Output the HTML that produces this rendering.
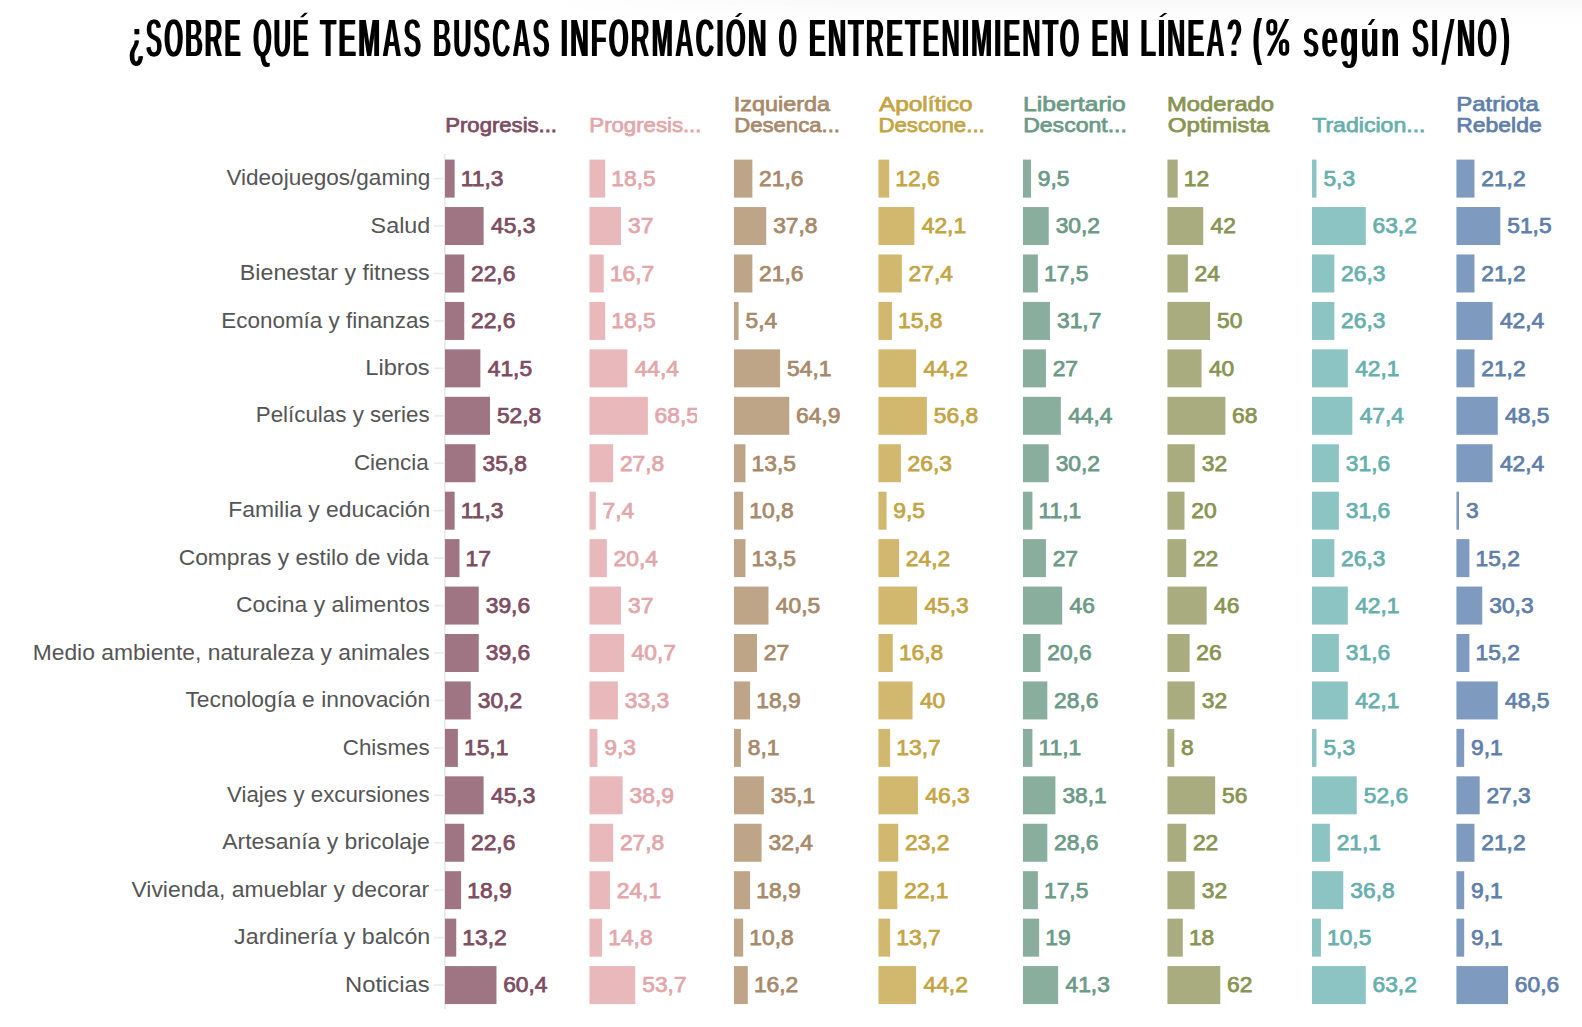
<!DOCTYPE html>
<html><head><meta charset="utf-8"><style>
html,body{margin:0;padding:0;background:#fff;}
body{width:1582px;height:1027px;overflow:hidden;position:relative;background:#fff;}
#shade{position:absolute;left:0;top:0;width:1582px;height:26px;
background:linear-gradient(to bottom,rgba(0,0,0,0.026) 0px,rgba(0,0,0,0.018) 6px,rgba(0,0,0,0.008) 13px,rgba(0,0,0,0.003) 19px,rgba(0,0,0,0) 26px);
-webkit-mask-image:linear-gradient(to right,transparent 540px,black 860px);mask-image:linear-gradient(to right,transparent 540px,black 860px);}
svg{position:absolute;left:0;top:0;display:block;}
text{font-family:"Liberation Sans",sans-serif;}
</style></head><body>
<div id="shade"></div>
<svg width="1582" height="1027" viewBox="0 0 1582 1027">
<defs><filter id="tm" x="-2%" y="-30%" width="104%" height="160%" color-interpolation-filters="sRGB"><feMorphology in="SourceGraphic" operator="erode" radius="0 1"/></filter></defs>
<g filter="url(#tm)">
<text transform="translate(128.24,57.30) scale(0.4317,1.0000)" x="0" y="0" font-size="56.1" font-weight="700" letter-spacing="5" fill="#000" stroke="#000" stroke-width="0" vector-effect="non-scaling-stroke">¿SOBRE</text>
<text transform="translate(129.64,57.30) scale(0.4317,1.0000)" x="0" y="0" font-size="56.1" font-weight="700" letter-spacing="5" fill="#000" stroke="#000" stroke-width="0" vector-effect="non-scaling-stroke">¿SOBRE</text>
<text transform="translate(252.56,57.30) scale(0.4208,1.0000)" x="0" y="0" font-size="56.1" font-weight="700" letter-spacing="5" fill="#000" stroke="#000" stroke-width="0" vector-effect="non-scaling-stroke">QUE</text>
<text transform="translate(253.96,57.30) scale(0.4208,1.0000)" x="0" y="0" font-size="56.1" font-weight="700" letter-spacing="5" fill="#000" stroke="#000" stroke-width="0" vector-effect="non-scaling-stroke">QUE</text>
<text transform="translate(319.39,57.30) scale(0.4673,1.0000)" x="0" y="0" font-size="56.1" font-weight="700" letter-spacing="5" fill="#000" stroke="#000" stroke-width="0" vector-effect="non-scaling-stroke">TEMAS</text>
<text transform="translate(320.79,57.30) scale(0.4673,1.0000)" x="0" y="0" font-size="56.1" font-weight="700" letter-spacing="5" fill="#000" stroke="#000" stroke-width="0" vector-effect="non-scaling-stroke">TEMAS</text>
<text transform="translate(432.46,57.30) scale(0.4441,1.0000)" x="0" y="0" font-size="56.1" font-weight="700" letter-spacing="5" fill="#000" stroke="#000" stroke-width="0" vector-effect="non-scaling-stroke">BUSCAS</text>
<text transform="translate(433.86,57.30) scale(0.4441,1.0000)" x="0" y="0" font-size="56.1" font-weight="700" letter-spacing="5" fill="#000" stroke="#000" stroke-width="0" vector-effect="non-scaling-stroke">BUSCAS</text>
<text transform="translate(560.12,57.30) scale(0.4549,1.0000)" x="0" y="0" font-size="56.1" font-weight="700" letter-spacing="5" fill="#000" stroke="#000" stroke-width="0" vector-effect="non-scaling-stroke">INFORMACION</text>
<text transform="translate(561.52,57.30) scale(0.4549,1.0000)" x="0" y="0" font-size="56.1" font-weight="700" letter-spacing="5" fill="#000" stroke="#000" stroke-width="0" vector-effect="non-scaling-stroke">INFORMACION</text>
<text transform="translate(778.07,57.30) scale(0.4123,1.0000)" x="0" y="0" font-size="56.1" font-weight="700" letter-spacing="5" fill="#000" stroke="#000" stroke-width="0" vector-effect="non-scaling-stroke">O</text>
<text transform="translate(779.47,57.30) scale(0.4123,1.0000)" x="0" y="0" font-size="56.1" font-weight="700" letter-spacing="5" fill="#000" stroke="#000" stroke-width="0" vector-effect="non-scaling-stroke">O</text>
<text transform="translate(808.35,57.30) scale(0.4467,1.0000)" x="0" y="0" font-size="56.1" font-weight="700" letter-spacing="5" fill="#000" stroke="#000" stroke-width="0" vector-effect="non-scaling-stroke">ENTRETENIMIENTO</text>
<text transform="translate(809.75,57.30) scale(0.4467,1.0000)" x="0" y="0" font-size="56.1" font-weight="700" letter-spacing="5" fill="#000" stroke="#000" stroke-width="0" vector-effect="non-scaling-stroke">ENTRETENIMIENTO</text>
<text transform="translate(1090.73,57.30) scale(0.4506,1.0000)" x="0" y="0" font-size="56.1" font-weight="700" letter-spacing="5" fill="#000" stroke="#000" stroke-width="0" vector-effect="non-scaling-stroke">EN</text>
<text transform="translate(1092.13,57.30) scale(0.4506,1.0000)" x="0" y="0" font-size="56.1" font-weight="700" letter-spacing="5" fill="#000" stroke="#000" stroke-width="0" vector-effect="non-scaling-stroke">EN</text>
<text transform="translate(1139.75,57.30) scale(0.4464,1.0000)" x="0" y="0" font-size="56.1" font-weight="700" letter-spacing="5" fill="#000" stroke="#000" stroke-width="0" vector-effect="non-scaling-stroke">LINEA?</text>
<text transform="translate(1141.15,57.30) scale(0.4464,1.0000)" x="0" y="0" font-size="56.1" font-weight="700" letter-spacing="5" fill="#000" stroke="#000" stroke-width="0" vector-effect="non-scaling-stroke">LINEA?</text>
<text transform="translate(1251.96,55.05) scale(0.5120,0.9123)" x="0" y="0" font-size="56.1" font-weight="700" letter-spacing="5" fill="#000" stroke="#000" stroke-width="0" vector-effect="non-scaling-stroke">(</text>
<text transform="translate(1253.36,55.05) scale(0.5120,0.9123)" x="0" y="0" font-size="56.1" font-weight="700" letter-spacing="5" fill="#000" stroke="#000" stroke-width="0" vector-effect="non-scaling-stroke">(</text>
<text transform="translate(1302.15,57.30) scale(0.5195,1.0000)" x="0" y="0" font-size="56.1" font-weight="700" letter-spacing="5" fill="#000" stroke="#000" stroke-width="0" vector-effect="non-scaling-stroke">segun</text>
<text transform="translate(1303.55,57.30) scale(0.5195,1.0000)" x="0" y="0" font-size="56.1" font-weight="700" letter-spacing="5" fill="#000" stroke="#000" stroke-width="0" vector-effect="non-scaling-stroke">segun</text>
<text transform="translate(1411.14,57.30) scale(0.4536,1.0000)" x="0" y="0" font-size="56.1" font-weight="700" letter-spacing="5" fill="#000" stroke="#000" stroke-width="0" vector-effect="non-scaling-stroke">SI</text>
<text transform="translate(1412.54,57.30) scale(0.4536,1.0000)" x="0" y="0" font-size="56.1" font-weight="700" letter-spacing="5" fill="#000" stroke="#000" stroke-width="0" vector-effect="non-scaling-stroke">SI</text>
<text transform="translate(1456.35,57.30) scale(0.4465,1.0000)" x="0" y="0" font-size="56.1" font-weight="700" letter-spacing="5" fill="#000" stroke="#000" stroke-width="0" vector-effect="non-scaling-stroke">NO</text>
<text transform="translate(1457.75,57.30) scale(0.4465,1.0000)" x="0" y="0" font-size="56.1" font-weight="700" letter-spacing="5" fill="#000" stroke="#000" stroke-width="0" vector-effect="non-scaling-stroke">NO</text>
<text transform="translate(1499.94,55.05) scale(0.4994,0.9123)" x="0" y="0" font-size="56.1" font-weight="700" letter-spacing="5" fill="#000" stroke="#000" stroke-width="0" vector-effect="non-scaling-stroke">)</text>
<text transform="translate(1501.34,55.05) scale(0.4994,0.9123)" x="0" y="0" font-size="56.1" font-weight="700" letter-spacing="5" fill="#000" stroke="#000" stroke-width="0" vector-effect="non-scaling-stroke">)</text>
</g>
<polygon points="1441.2,64.7 1445.4,64.7 1454.6,19 1450.4,19" fill="#000"/>
<polygon points="300,17.3 303.1,17.3 307.9,12.8 304.8,12.8" fill="#000"/>
<polygon points="734.9,17 738,17 742.3,13.1 739.2,13.1" fill="#000"/>
<polygon points="1159,17 1162.1,17 1167.3,13.1 1164.2,13.1" fill="#000"/>
<polygon points="1367.8,25.1 1371,25.1 1375.2,19 1372,19" fill="#000"/>
<rect x="1268.2" y="20.9" width="7.2" height="12.8" rx="3.6" fill="none" stroke="#000" stroke-width="3.8"/>
<rect x="1280.8" y="40.9" width="6.5" height="13" rx="3.25" fill="none" stroke="#000" stroke-width="3.8"/>
<polygon points="1266.8,55.8 1270.9,55.8 1289.2,19 1285.1,19" fill="#000"/>
<defs><clipPath id="c0"><rect x="443.00" y="140" width="109.4" height="880"/></clipPath><clipPath id="c1"><rect x="587.49" y="140" width="109.4" height="880"/></clipPath><clipPath id="c2"><rect x="731.98" y="140" width="109.4" height="880"/></clipPath><clipPath id="c3"><rect x="876.47" y="140" width="109.4" height="880"/></clipPath><clipPath id="c4"><rect x="1020.96" y="140" width="109.4" height="880"/></clipPath><clipPath id="c5"><rect x="1165.45" y="140" width="109.4" height="880"/></clipPath><clipPath id="c6"><rect x="1309.94" y="140" width="109.4" height="880"/></clipPath><clipPath id="c7"><rect x="1454.43" y="140" width="109.4" height="880"/></clipPath></defs>
<rect x="444" y="154" width="1.6" height="855" fill="#e8e8e8"/>
<text x="445.26" y="131.7" font-size="21.1" font-weight="400" stroke="#7e4c61" stroke-width="0.75" fill="#7e4c61" textLength="111.78" lengthAdjust="spacingAndGlyphs">Progresis...</text>
<text x="589.36" y="131.7" font-size="21.1" font-weight="400" stroke="#e3a6aa" stroke-width="0.75" fill="#e3a6aa" textLength="112.09" lengthAdjust="spacingAndGlyphs">Progresis...</text>
<text x="733.83" y="111" font-size="21.1" font-weight="400" stroke="#a8896a" stroke-width="0.75" fill="#a8896a" textLength="96.09" lengthAdjust="spacingAndGlyphs">Izquierda</text>
<text x="734.16" y="131.7" font-size="21.1" font-weight="400" stroke="#a8896a" stroke-width="0.75" fill="#a8896a" textLength="105.81" lengthAdjust="spacingAndGlyphs">Desenca...</text>
<text x="878.93" y="111" font-size="21.1" font-weight="400" stroke="#c4a443" stroke-width="0.75" fill="#c4a443" textLength="93.61" lengthAdjust="spacingAndGlyphs">Apolítico</text>
<text x="878.45" y="131.7" font-size="21.1" font-weight="400" stroke="#c4a443" stroke-width="0.75" fill="#c4a443" textLength="106.33" lengthAdjust="spacingAndGlyphs">Descone...</text>
<text x="1023.05" y="111" font-size="21.1" font-weight="400" stroke="#6b9a87" stroke-width="0.75" fill="#6b9a87" textLength="102.73" lengthAdjust="spacingAndGlyphs">Libertario</text>
<text x="1023.19" y="131.7" font-size="21.1" font-weight="400" stroke="#6b9a87" stroke-width="0.75" fill="#6b9a87" textLength="103.66" lengthAdjust="spacingAndGlyphs">Descont...</text>
<text x="1167.03" y="111" font-size="21.1" font-weight="400" stroke="#899352" stroke-width="0.75" fill="#899352" textLength="107.02" lengthAdjust="spacingAndGlyphs">Moderado</text>
<text x="1167.82" y="131.7" font-size="21.1" font-weight="400" stroke="#899352" stroke-width="0.75" fill="#899352" textLength="101.69" lengthAdjust="spacingAndGlyphs">Optimista</text>
<text x="1312.17" y="131.7" font-size="21.1" font-weight="400" stroke="#67afad" stroke-width="0.75" fill="#67afad" textLength="113.36" lengthAdjust="spacingAndGlyphs">Tradicion...</text>
<text x="1456.21" y="111" font-size="21.1" font-weight="400" stroke="#5f7fab" stroke-width="0.75" fill="#5f7fab" textLength="82.62" lengthAdjust="spacingAndGlyphs">Patriota</text>
<text x="1456.30" y="131.7" font-size="21.1" font-weight="400" stroke="#5f7fab" stroke-width="0.75" fill="#5f7fab" textLength="85.36" lengthAdjust="spacingAndGlyphs">Rebelde</text>
<text x="430.24" y="185.2" font-size="22.4" fill="#555" text-anchor="end" textLength="203.83" lengthAdjust="spacingAndGlyphs">Videojuegos/gaming</text>
<rect x="434" y="177.8" width="10" height="1.6" fill="#ececec"/>
<rect x="445.00" y="159.60" width="9.63" height="38.0" fill="#9f7483"/><text x="460.77" y="186.0" font-size="21.4" font-weight="400" stroke="#7e4c61" stroke-width="0.75" fill="#7e4c61" textLength="42.67" lengthAdjust="spacingAndGlyphs" clip-path="url(#c0)">11,3</text>
<rect x="589.49" y="159.60" width="15.76" height="38.0" fill="#e8b8bb"/><text x="611.39" y="186.0" font-size="21.4" font-weight="400" stroke="#e3a6aa" stroke-width="0.75" fill="#e3a6aa" textLength="44.36" lengthAdjust="spacingAndGlyphs" clip-path="url(#c1)">18,5</text>
<rect x="733.98" y="159.60" width="18.40" height="38.0" fill="#bea588"/><text x="759.12" y="186.0" font-size="21.4" font-weight="400" stroke="#a8896a" stroke-width="0.75" fill="#a8896a" textLength="44.36" lengthAdjust="spacingAndGlyphs" clip-path="url(#c2)">21,6</text>
<rect x="878.47" y="159.60" width="10.74" height="38.0" fill="#d2b86e"/><text x="895.35" y="186.0" font-size="21.4" font-weight="400" stroke="#c4a443" stroke-width="0.75" fill="#c4a443" textLength="44.36" lengthAdjust="spacingAndGlyphs" clip-path="url(#c3)">12,6</text>
<rect x="1022.96" y="159.60" width="8.09" height="38.0" fill="#8aae9e"/><text x="1037.88" y="186.0" font-size="21.4" font-weight="400" stroke="#6b9a87" stroke-width="0.75" fill="#6b9a87" textLength="31.68" lengthAdjust="spacingAndGlyphs" clip-path="url(#c4)">9,5</text>
<rect x="1167.45" y="159.60" width="10.22" height="38.0" fill="#a8ac7f"/><text x="1183.82" y="186.0" font-size="21.4" font-weight="400" stroke="#899352" stroke-width="0.75" fill="#899352" textLength="25.35" lengthAdjust="spacingAndGlyphs" clip-path="url(#c5)">12</text>
<rect x="1311.94" y="159.60" width="4.52" height="38.0" fill="#8cc4c3"/><text x="1323.42" y="186.0" font-size="21.4" font-weight="400" stroke="#67afad" stroke-width="0.75" fill="#67afad" textLength="31.68" lengthAdjust="spacingAndGlyphs" clip-path="url(#c6)">5,3</text>
<rect x="1456.43" y="159.60" width="18.06" height="38.0" fill="#7f9abf"/><text x="1481.23" y="186.0" font-size="21.4" font-weight="400" stroke="#5f7fab" stroke-width="0.75" fill="#5f7fab" textLength="44.36" lengthAdjust="spacingAndGlyphs" clip-path="url(#c7)">21,2</text>
<text x="430.28" y="232.6" font-size="22.4" fill="#555" text-anchor="end" textLength="59.66" lengthAdjust="spacingAndGlyphs">Salud</text>
<rect x="434" y="225.2" width="10" height="1.6" fill="#ececec"/>
<rect x="445.00" y="207.04" width="38.60" height="38.0" fill="#9f7483"/><text x="490.97" y="233.4" font-size="21.4" font-weight="400" stroke="#7e4c61" stroke-width="0.75" fill="#7e4c61" textLength="44.36" lengthAdjust="spacingAndGlyphs" clip-path="url(#c0)">45,3</text>
<rect x="589.49" y="207.04" width="31.52" height="38.0" fill="#e8b8bb"/><text x="628.02" y="233.4" font-size="21.4" font-weight="400" stroke="#e3a6aa" stroke-width="0.75" fill="#e3a6aa" textLength="25.35" lengthAdjust="spacingAndGlyphs" clip-path="url(#c1)">37</text>
<rect x="733.98" y="207.04" width="32.21" height="38.0" fill="#bea588"/><text x="773.19" y="233.4" font-size="21.4" font-weight="400" stroke="#a8896a" stroke-width="0.75" fill="#a8896a" textLength="44.36" lengthAdjust="spacingAndGlyphs" clip-path="url(#c2)">37,8</text>
<rect x="878.47" y="207.04" width="35.87" height="38.0" fill="#d2b86e"/><text x="921.71" y="233.4" font-size="21.4" font-weight="400" stroke="#c4a443" stroke-width="0.75" fill="#c4a443" textLength="44.36" lengthAdjust="spacingAndGlyphs" clip-path="url(#c3)">42,1</text>
<rect x="1022.96" y="207.04" width="25.73" height="38.0" fill="#8aae9e"/><text x="1055.70" y="233.4" font-size="21.4" font-weight="400" stroke="#6b9a87" stroke-width="0.75" fill="#6b9a87" textLength="44.36" lengthAdjust="spacingAndGlyphs" clip-path="url(#c4)">30,2</text>
<rect x="1167.45" y="207.04" width="35.78" height="38.0" fill="#a8ac7f"/><text x="1210.61" y="233.4" font-size="21.4" font-weight="400" stroke="#899352" stroke-width="0.75" fill="#899352" textLength="25.35" lengthAdjust="spacingAndGlyphs" clip-path="url(#c5)">42</text>
<rect x="1311.94" y="207.04" width="53.85" height="38.0" fill="#8cc4c3"/><text x="1372.52" y="233.4" font-size="21.4" font-weight="400" stroke="#67afad" stroke-width="0.75" fill="#67afad" textLength="44.36" lengthAdjust="spacingAndGlyphs" clip-path="url(#c6)">63,2</text>
<rect x="1456.43" y="207.04" width="43.88" height="38.0" fill="#7f9abf"/><text x="1507.27" y="233.4" font-size="21.4" font-weight="400" stroke="#5f7fab" stroke-width="0.75" fill="#5f7fab" textLength="44.36" lengthAdjust="spacingAndGlyphs" clip-path="url(#c7)">51,5</text>
<text x="429.65" y="280.1" font-size="22.4" fill="#555" text-anchor="end" textLength="189.85" lengthAdjust="spacingAndGlyphs">Bienestar y fitness</text>
<rect x="434" y="272.7" width="10" height="1.6" fill="#ececec"/>
<rect x="445.00" y="254.48" width="19.26" height="38.0" fill="#9f7483"/><text x="470.99" y="280.8" font-size="21.4" font-weight="400" stroke="#7e4c61" stroke-width="0.75" fill="#7e4c61" textLength="44.36" lengthAdjust="spacingAndGlyphs" clip-path="url(#c0)">22,6</text>
<rect x="589.49" y="254.48" width="14.23" height="38.0" fill="#e8b8bb"/><text x="609.86" y="280.8" font-size="21.4" font-weight="400" stroke="#e3a6aa" stroke-width="0.75" fill="#e3a6aa" textLength="44.36" lengthAdjust="spacingAndGlyphs" clip-path="url(#c1)">16,7</text>
<rect x="733.98" y="254.48" width="18.40" height="38.0" fill="#bea588"/><text x="759.12" y="280.8" font-size="21.4" font-weight="400" stroke="#a8896a" stroke-width="0.75" fill="#a8896a" textLength="44.36" lengthAdjust="spacingAndGlyphs" clip-path="url(#c2)">21,6</text>
<rect x="878.47" y="254.48" width="23.34" height="38.0" fill="#d2b86e"/><text x="908.55" y="280.8" font-size="21.4" font-weight="400" stroke="#c4a443" stroke-width="0.75" fill="#c4a443" textLength="44.36" lengthAdjust="spacingAndGlyphs" clip-path="url(#c3)">27,4</text>
<rect x="1022.96" y="254.48" width="14.91" height="38.0" fill="#8aae9e"/><text x="1044.01" y="280.8" font-size="21.4" font-weight="400" stroke="#6b9a87" stroke-width="0.75" fill="#6b9a87" textLength="44.36" lengthAdjust="spacingAndGlyphs" clip-path="url(#c4)">17,5</text>
<rect x="1167.45" y="254.48" width="20.45" height="38.0" fill="#a8ac7f"/><text x="1194.63" y="280.8" font-size="21.4" font-weight="400" stroke="#899352" stroke-width="0.75" fill="#899352" textLength="25.35" lengthAdjust="spacingAndGlyphs" clip-path="url(#c5)">24</text>
<rect x="1311.94" y="254.48" width="22.41" height="38.0" fill="#8cc4c3"/><text x="1341.08" y="280.8" font-size="21.4" font-weight="400" stroke="#67afad" stroke-width="0.75" fill="#67afad" textLength="44.36" lengthAdjust="spacingAndGlyphs" clip-path="url(#c6)">26,3</text>
<rect x="1456.43" y="254.48" width="18.06" height="38.0" fill="#7f9abf"/><text x="1481.23" y="280.8" font-size="21.4" font-weight="400" stroke="#5f7fab" stroke-width="0.75" fill="#5f7fab" textLength="44.36" lengthAdjust="spacingAndGlyphs" clip-path="url(#c7)">21,2</text>
<text x="429.63" y="327.5" font-size="22.4" fill="#555" text-anchor="end" textLength="208.37" lengthAdjust="spacingAndGlyphs">Economía y finanzas</text>
<rect x="434" y="320.1" width="10" height="1.6" fill="#ececec"/>
<rect x="445.00" y="301.92" width="19.26" height="38.0" fill="#9f7483"/><text x="470.99" y="328.3" font-size="21.4" font-weight="400" stroke="#7e4c61" stroke-width="0.75" fill="#7e4c61" textLength="44.36" lengthAdjust="spacingAndGlyphs" clip-path="url(#c0)">22,6</text>
<rect x="589.49" y="301.92" width="15.76" height="38.0" fill="#e8b8bb"/><text x="611.39" y="328.3" font-size="21.4" font-weight="400" stroke="#e3a6aa" stroke-width="0.75" fill="#e3a6aa" textLength="44.36" lengthAdjust="spacingAndGlyphs" clip-path="url(#c1)">18,5</text>
<rect x="733.98" y="301.92" width="4.60" height="38.0" fill="#bea588"/><text x="745.54" y="328.3" font-size="21.4" font-weight="400" stroke="#a8896a" stroke-width="0.75" fill="#a8896a" textLength="31.68" lengthAdjust="spacingAndGlyphs" clip-path="url(#c2)">5,4</text>
<rect x="878.47" y="301.92" width="13.46" height="38.0" fill="#d2b86e"/><text x="898.07" y="328.3" font-size="21.4" font-weight="400" stroke="#c4a443" stroke-width="0.75" fill="#c4a443" textLength="44.36" lengthAdjust="spacingAndGlyphs" clip-path="url(#c3)">15,8</text>
<rect x="1022.96" y="301.92" width="27.01" height="38.0" fill="#8aae9e"/><text x="1056.98" y="328.3" font-size="21.4" font-weight="400" stroke="#6b9a87" stroke-width="0.75" fill="#6b9a87" textLength="44.36" lengthAdjust="spacingAndGlyphs" clip-path="url(#c4)">31,7</text>
<rect x="1167.45" y="301.92" width="42.60" height="38.0" fill="#a8ac7f"/><text x="1217.01" y="328.3" font-size="21.4" font-weight="400" stroke="#899352" stroke-width="0.75" fill="#899352" textLength="25.35" lengthAdjust="spacingAndGlyphs" clip-path="url(#c5)">50</text>
<rect x="1311.94" y="301.92" width="22.41" height="38.0" fill="#8cc4c3"/><text x="1341.08" y="328.3" font-size="21.4" font-weight="400" stroke="#67afad" stroke-width="0.75" fill="#67afad" textLength="44.36" lengthAdjust="spacingAndGlyphs" clip-path="url(#c6)">26,3</text>
<rect x="1456.43" y="301.92" width="36.12" height="38.0" fill="#7f9abf"/><text x="1499.93" y="328.3" font-size="21.4" font-weight="400" stroke="#5f7fab" stroke-width="0.75" fill="#5f7fab" textLength="44.36" lengthAdjust="spacingAndGlyphs" clip-path="url(#c7)">42,4</text>
<text x="429.64" y="375.0" font-size="22.4" fill="#555" text-anchor="end" textLength="64.38" lengthAdjust="spacingAndGlyphs">Libros</text>
<rect x="434" y="367.6" width="10" height="1.6" fill="#ececec"/>
<rect x="445.00" y="349.36" width="35.36" height="38.0" fill="#9f7483"/><text x="487.73" y="375.7" font-size="21.4" font-weight="400" stroke="#7e4c61" stroke-width="0.75" fill="#7e4c61" textLength="44.36" lengthAdjust="spacingAndGlyphs" clip-path="url(#c0)">41,5</text>
<rect x="589.49" y="349.36" width="37.83" height="38.0" fill="#e8b8bb"/><text x="634.69" y="375.7" font-size="21.4" font-weight="400" stroke="#e3a6aa" stroke-width="0.75" fill="#e3a6aa" textLength="44.36" lengthAdjust="spacingAndGlyphs" clip-path="url(#c1)">44,4</text>
<rect x="733.98" y="349.36" width="46.09" height="38.0" fill="#bea588"/><text x="787.04" y="375.7" font-size="21.4" font-weight="400" stroke="#a8896a" stroke-width="0.75" fill="#a8896a" textLength="44.36" lengthAdjust="spacingAndGlyphs" clip-path="url(#c2)">54,1</text>
<rect x="878.47" y="349.36" width="37.66" height="38.0" fill="#d2b86e"/><text x="923.50" y="375.7" font-size="21.4" font-weight="400" stroke="#c4a443" stroke-width="0.75" fill="#c4a443" textLength="44.36" lengthAdjust="spacingAndGlyphs" clip-path="url(#c3)">44,2</text>
<rect x="1022.96" y="349.36" width="23.00" height="38.0" fill="#8aae9e"/><text x="1052.70" y="375.7" font-size="21.4" font-weight="400" stroke="#6b9a87" stroke-width="0.75" fill="#6b9a87" textLength="25.35" lengthAdjust="spacingAndGlyphs" clip-path="url(#c4)">27</text>
<rect x="1167.45" y="349.36" width="34.08" height="38.0" fill="#a8ac7f"/><text x="1208.90" y="375.7" font-size="21.4" font-weight="400" stroke="#899352" stroke-width="0.75" fill="#899352" textLength="25.35" lengthAdjust="spacingAndGlyphs" clip-path="url(#c5)">40</text>
<rect x="1311.94" y="349.36" width="35.87" height="38.0" fill="#8cc4c3"/><text x="1355.18" y="375.7" font-size="21.4" font-weight="400" stroke="#67afad" stroke-width="0.75" fill="#67afad" textLength="44.36" lengthAdjust="spacingAndGlyphs" clip-path="url(#c6)">42,1</text>
<rect x="1456.43" y="349.36" width="18.06" height="38.0" fill="#7f9abf"/><text x="1481.23" y="375.7" font-size="21.4" font-weight="400" stroke="#5f7fab" stroke-width="0.75" fill="#5f7fab" textLength="44.36" lengthAdjust="spacingAndGlyphs" clip-path="url(#c7)">21,2</text>
<text x="429.62" y="422.4" font-size="22.4" fill="#555" text-anchor="end" textLength="173.85" lengthAdjust="spacingAndGlyphs">Películas y series</text>
<rect x="434" y="415.0" width="10" height="1.6" fill="#ececec"/>
<rect x="445.00" y="396.80" width="44.99" height="38.0" fill="#9f7483"/><text x="496.95" y="423.2" font-size="21.4" font-weight="400" stroke="#7e4c61" stroke-width="0.75" fill="#7e4c61" textLength="44.36" lengthAdjust="spacingAndGlyphs" clip-path="url(#c0)">52,8</text>
<rect x="589.49" y="396.80" width="58.36" height="38.0" fill="#e8b8bb"/><text x="654.59" y="423.2" font-size="21.4" font-weight="400" stroke="#e3a6aa" stroke-width="0.75" fill="#e3a6aa" textLength="44.36" lengthAdjust="spacingAndGlyphs" clip-path="url(#c1)">68,5</text>
<rect x="733.98" y="396.80" width="55.29" height="38.0" fill="#bea588"/><text x="796.01" y="423.2" font-size="21.4" font-weight="400" stroke="#a8896a" stroke-width="0.75" fill="#a8896a" textLength="44.36" lengthAdjust="spacingAndGlyphs" clip-path="url(#c2)">64,9</text>
<rect x="878.47" y="396.80" width="48.39" height="38.0" fill="#d2b86e"/><text x="933.83" y="423.2" font-size="21.4" font-weight="400" stroke="#c4a443" stroke-width="0.75" fill="#c4a443" textLength="44.36" lengthAdjust="spacingAndGlyphs" clip-path="url(#c3)">56,8</text>
<rect x="1022.96" y="396.80" width="37.83" height="38.0" fill="#8aae9e"/><text x="1068.16" y="423.2" font-size="21.4" font-weight="400" stroke="#6b9a87" stroke-width="0.75" fill="#6b9a87" textLength="44.36" lengthAdjust="spacingAndGlyphs" clip-path="url(#c4)">44,4</text>
<rect x="1167.45" y="396.80" width="57.94" height="38.0" fill="#a8ac7f"/><text x="1232.12" y="423.2" font-size="21.4" font-weight="400" stroke="#899352" stroke-width="0.75" fill="#899352" textLength="25.35" lengthAdjust="spacingAndGlyphs" clip-path="url(#c5)">68</text>
<rect x="1311.94" y="396.80" width="40.38" height="38.0" fill="#8cc4c3"/><text x="1359.70" y="423.2" font-size="21.4" font-weight="400" stroke="#67afad" stroke-width="0.75" fill="#67afad" textLength="44.36" lengthAdjust="spacingAndGlyphs" clip-path="url(#c6)">47,4</text>
<rect x="1456.43" y="396.80" width="41.32" height="38.0" fill="#7f9abf"/><text x="1505.13" y="423.2" font-size="21.4" font-weight="400" stroke="#5f7fab" stroke-width="0.75" fill="#5f7fab" textLength="44.36" lengthAdjust="spacingAndGlyphs" clip-path="url(#c7)">48,5</text>
<text x="428.82" y="469.8" font-size="22.4" fill="#555" text-anchor="end" textLength="74.94" lengthAdjust="spacingAndGlyphs">Ciencia</text>
<rect x="434" y="462.4" width="10" height="1.6" fill="#ececec"/>
<rect x="445.00" y="444.24" width="30.50" height="38.0" fill="#9f7483"/><text x="482.51" y="470.6" font-size="21.4" font-weight="400" stroke="#7e4c61" stroke-width="0.75" fill="#7e4c61" textLength="44.36" lengthAdjust="spacingAndGlyphs" clip-path="url(#c0)">35,8</text>
<rect x="589.49" y="444.24" width="23.69" height="38.0" fill="#e8b8bb"/><text x="619.91" y="470.6" font-size="21.4" font-weight="400" stroke="#e3a6aa" stroke-width="0.75" fill="#e3a6aa" textLength="44.36" lengthAdjust="spacingAndGlyphs" clip-path="url(#c1)">27,8</text>
<rect x="733.98" y="444.24" width="11.50" height="38.0" fill="#bea588"/><text x="751.62" y="470.6" font-size="21.4" font-weight="400" stroke="#a8896a" stroke-width="0.75" fill="#a8896a" textLength="44.36" lengthAdjust="spacingAndGlyphs" clip-path="url(#c2)">13,5</text>
<rect x="878.47" y="444.24" width="22.41" height="38.0" fill="#d2b86e"/><text x="907.61" y="470.6" font-size="21.4" font-weight="400" stroke="#c4a443" stroke-width="0.75" fill="#c4a443" textLength="44.36" lengthAdjust="spacingAndGlyphs" clip-path="url(#c3)">26,3</text>
<rect x="1022.96" y="444.24" width="25.73" height="38.0" fill="#8aae9e"/><text x="1055.70" y="470.6" font-size="21.4" font-weight="400" stroke="#6b9a87" stroke-width="0.75" fill="#6b9a87" textLength="44.36" lengthAdjust="spacingAndGlyphs" clip-path="url(#c4)">30,2</text>
<rect x="1167.45" y="444.24" width="27.26" height="38.0" fill="#a8ac7f"/><text x="1201.72" y="470.6" font-size="21.4" font-weight="400" stroke="#899352" stroke-width="0.75" fill="#899352" textLength="25.35" lengthAdjust="spacingAndGlyphs" clip-path="url(#c5)">32</text>
<rect x="1311.94" y="444.24" width="26.92" height="38.0" fill="#8cc4c3"/><text x="1345.87" y="470.6" font-size="21.4" font-weight="400" stroke="#67afad" stroke-width="0.75" fill="#67afad" textLength="44.36" lengthAdjust="spacingAndGlyphs" clip-path="url(#c6)">31,6</text>
<rect x="1456.43" y="444.24" width="36.12" height="38.0" fill="#7f9abf"/><text x="1499.93" y="470.6" font-size="21.4" font-weight="400" stroke="#5f7fab" stroke-width="0.75" fill="#5f7fab" textLength="44.36" lengthAdjust="spacingAndGlyphs" clip-path="url(#c7)">42,4</text>
<text x="430.25" y="517.3" font-size="22.4" fill="#555" text-anchor="end" textLength="201.92" lengthAdjust="spacingAndGlyphs">Familia y educación</text>
<rect x="434" y="509.9" width="10" height="1.6" fill="#ececec"/>
<rect x="445.00" y="491.68" width="9.63" height="38.0" fill="#9f7483"/><text x="460.77" y="518.0" font-size="21.4" font-weight="400" stroke="#7e4c61" stroke-width="0.75" fill="#7e4c61" textLength="42.67" lengthAdjust="spacingAndGlyphs" clip-path="url(#c0)">11,3</text>
<rect x="589.49" y="491.68" width="6.30" height="38.0" fill="#e8b8bb"/><text x="602.48" y="518.0" font-size="21.4" font-weight="400" stroke="#e3a6aa" stroke-width="0.75" fill="#e3a6aa" textLength="31.68" lengthAdjust="spacingAndGlyphs" clip-path="url(#c1)">7,4</text>
<rect x="733.98" y="491.68" width="9.20" height="38.0" fill="#bea588"/><text x="749.32" y="518.0" font-size="21.4" font-weight="400" stroke="#a8896a" stroke-width="0.75" fill="#a8896a" textLength="44.36" lengthAdjust="spacingAndGlyphs" clip-path="url(#c2)">10,8</text>
<rect x="878.47" y="491.68" width="8.09" height="38.0" fill="#d2b86e"/><text x="893.39" y="518.0" font-size="21.4" font-weight="400" stroke="#c4a443" stroke-width="0.75" fill="#c4a443" textLength="31.68" lengthAdjust="spacingAndGlyphs" clip-path="url(#c3)">9,5</text>
<rect x="1022.96" y="491.68" width="9.46" height="38.0" fill="#8aae9e"/><text x="1038.56" y="518.0" font-size="21.4" font-weight="400" stroke="#6b9a87" stroke-width="0.75" fill="#6b9a87" textLength="42.67" lengthAdjust="spacingAndGlyphs" clip-path="url(#c4)">11,1</text>
<rect x="1167.45" y="491.68" width="17.04" height="38.0" fill="#a8ac7f"/><text x="1191.23" y="518.0" font-size="21.4" font-weight="400" stroke="#899352" stroke-width="0.75" fill="#899352" textLength="25.35" lengthAdjust="spacingAndGlyphs" clip-path="url(#c5)">20</text>
<rect x="1311.94" y="491.68" width="26.92" height="38.0" fill="#8cc4c3"/><text x="1345.87" y="518.0" font-size="21.4" font-weight="400" stroke="#67afad" stroke-width="0.75" fill="#67afad" textLength="44.36" lengthAdjust="spacingAndGlyphs" clip-path="url(#c6)">31,6</text>
<rect x="1456.43" y="491.68" width="2.56" height="38.0" fill="#7f9abf"/><text x="1465.99" y="518.0" font-size="21.4" font-weight="400" stroke="#5f7fab" stroke-width="0.75" fill="#5f7fab" textLength="12.68" lengthAdjust="spacingAndGlyphs" clip-path="url(#c7)">3</text>
<text x="428.78" y="564.7" font-size="22.4" fill="#555" text-anchor="end" textLength="250.13" lengthAdjust="spacingAndGlyphs">Compras y estilo de vida</text>
<rect x="434" y="557.3" width="10" height="1.6" fill="#ececec"/>
<rect x="445.00" y="539.12" width="14.48" height="38.0" fill="#9f7483"/><text x="465.63" y="565.5" font-size="21.4" font-weight="400" stroke="#7e4c61" stroke-width="0.75" fill="#7e4c61" textLength="25.35" lengthAdjust="spacingAndGlyphs" clip-path="url(#c0)">17</text>
<rect x="589.49" y="539.12" width="17.38" height="38.0" fill="#e8b8bb"/><text x="613.61" y="565.5" font-size="21.4" font-weight="400" stroke="#e3a6aa" stroke-width="0.75" fill="#e3a6aa" textLength="44.36" lengthAdjust="spacingAndGlyphs" clip-path="url(#c1)">20,4</text>
<rect x="733.98" y="539.12" width="11.50" height="38.0" fill="#bea588"/><text x="751.62" y="565.5" font-size="21.4" font-weight="400" stroke="#a8896a" stroke-width="0.75" fill="#a8896a" textLength="44.36" lengthAdjust="spacingAndGlyphs" clip-path="url(#c2)">13,5</text>
<rect x="878.47" y="539.12" width="20.62" height="38.0" fill="#d2b86e"/><text x="905.82" y="565.5" font-size="21.4" font-weight="400" stroke="#c4a443" stroke-width="0.75" fill="#c4a443" textLength="44.36" lengthAdjust="spacingAndGlyphs" clip-path="url(#c3)">24,2</text>
<rect x="1022.96" y="539.12" width="23.00" height="38.0" fill="#8aae9e"/><text x="1052.70" y="565.5" font-size="21.4" font-weight="400" stroke="#6b9a87" stroke-width="0.75" fill="#6b9a87" textLength="25.35" lengthAdjust="spacingAndGlyphs" clip-path="url(#c4)">27</text>
<rect x="1167.45" y="539.12" width="18.74" height="38.0" fill="#a8ac7f"/><text x="1192.93" y="565.5" font-size="21.4" font-weight="400" stroke="#899352" stroke-width="0.75" fill="#899352" textLength="25.35" lengthAdjust="spacingAndGlyphs" clip-path="url(#c5)">22</text>
<rect x="1311.94" y="539.12" width="22.41" height="38.0" fill="#8cc4c3"/><text x="1341.08" y="565.5" font-size="21.4" font-weight="400" stroke="#67afad" stroke-width="0.75" fill="#67afad" textLength="44.36" lengthAdjust="spacingAndGlyphs" clip-path="url(#c6)">26,3</text>
<rect x="1456.43" y="539.12" width="12.95" height="38.0" fill="#7f9abf"/><text x="1475.52" y="565.5" font-size="21.4" font-weight="400" stroke="#5f7fab" stroke-width="0.75" fill="#5f7fab" textLength="44.36" lengthAdjust="spacingAndGlyphs" clip-path="url(#c7)">15,2</text>
<text x="429.63" y="612.2" font-size="22.4" fill="#555" text-anchor="end" textLength="193.68" lengthAdjust="spacingAndGlyphs">Cocina y alimentos</text>
<rect x="434" y="604.8" width="10" height="1.6" fill="#ececec"/>
<rect x="445.00" y="586.56" width="33.74" height="38.0" fill="#9f7483"/><text x="485.75" y="612.9" font-size="21.4" font-weight="400" stroke="#7e4c61" stroke-width="0.75" fill="#7e4c61" textLength="44.36" lengthAdjust="spacingAndGlyphs" clip-path="url(#c0)">39,6</text>
<rect x="589.49" y="586.56" width="31.52" height="38.0" fill="#e8b8bb"/><text x="628.02" y="612.9" font-size="21.4" font-weight="400" stroke="#e3a6aa" stroke-width="0.75" fill="#e3a6aa" textLength="25.35" lengthAdjust="spacingAndGlyphs" clip-path="url(#c1)">37</text>
<rect x="733.98" y="586.56" width="34.51" height="38.0" fill="#bea588"/><text x="775.86" y="612.9" font-size="21.4" font-weight="400" stroke="#a8896a" stroke-width="0.75" fill="#a8896a" textLength="44.36" lengthAdjust="spacingAndGlyphs" clip-path="url(#c2)">40,5</text>
<rect x="878.47" y="586.56" width="38.60" height="38.0" fill="#d2b86e"/><text x="924.44" y="612.9" font-size="21.4" font-weight="400" stroke="#c4a443" stroke-width="0.75" fill="#c4a443" textLength="44.36" lengthAdjust="spacingAndGlyphs" clip-path="url(#c3)">45,3</text>
<rect x="1022.96" y="586.56" width="39.19" height="38.0" fill="#8aae9e"/><text x="1069.53" y="612.9" font-size="21.4" font-weight="400" stroke="#6b9a87" stroke-width="0.75" fill="#6b9a87" textLength="25.35" lengthAdjust="spacingAndGlyphs" clip-path="url(#c4)">46</text>
<rect x="1167.45" y="586.56" width="39.19" height="38.0" fill="#a8ac7f"/><text x="1214.02" y="612.9" font-size="21.4" font-weight="400" stroke="#899352" stroke-width="0.75" fill="#899352" textLength="25.35" lengthAdjust="spacingAndGlyphs" clip-path="url(#c5)">46</text>
<rect x="1311.94" y="586.56" width="35.87" height="38.0" fill="#8cc4c3"/><text x="1355.18" y="612.9" font-size="21.4" font-weight="400" stroke="#67afad" stroke-width="0.75" fill="#67afad" textLength="44.36" lengthAdjust="spacingAndGlyphs" clip-path="url(#c6)">42,1</text>
<rect x="1456.43" y="586.56" width="25.82" height="38.0" fill="#7f9abf"/><text x="1489.25" y="612.9" font-size="21.4" font-weight="400" stroke="#5f7fab" stroke-width="0.75" fill="#5f7fab" textLength="44.36" lengthAdjust="spacingAndGlyphs" clip-path="url(#c7)">30,3</text>
<text x="429.63" y="659.6" font-size="22.4" fill="#555" text-anchor="end" textLength="396.90" lengthAdjust="spacingAndGlyphs">Medio ambiente, naturaleza y animales</text>
<rect x="434" y="652.2" width="10" height="1.6" fill="#ececec"/>
<rect x="445.00" y="634.00" width="33.74" height="38.0" fill="#9f7483"/><text x="485.75" y="660.4" font-size="21.4" font-weight="400" stroke="#7e4c61" stroke-width="0.75" fill="#7e4c61" textLength="44.36" lengthAdjust="spacingAndGlyphs" clip-path="url(#c0)">39,6</text>
<rect x="589.49" y="634.00" width="34.68" height="38.0" fill="#e8b8bb"/><text x="631.54" y="660.4" font-size="21.4" font-weight="400" stroke="#e3a6aa" stroke-width="0.75" fill="#e3a6aa" textLength="44.36" lengthAdjust="spacingAndGlyphs" clip-path="url(#c1)">40,7</text>
<rect x="733.98" y="634.00" width="23.00" height="38.0" fill="#bea588"/><text x="763.72" y="660.4" font-size="21.4" font-weight="400" stroke="#a8896a" stroke-width="0.75" fill="#a8896a" textLength="25.35" lengthAdjust="spacingAndGlyphs" clip-path="url(#c2)">27</text>
<rect x="878.47" y="634.00" width="14.31" height="38.0" fill="#d2b86e"/><text x="898.93" y="660.4" font-size="21.4" font-weight="400" stroke="#c4a443" stroke-width="0.75" fill="#c4a443" textLength="44.36" lengthAdjust="spacingAndGlyphs" clip-path="url(#c3)">16,8</text>
<rect x="1022.96" y="634.00" width="17.55" height="38.0" fill="#8aae9e"/><text x="1047.25" y="660.4" font-size="21.4" font-weight="400" stroke="#6b9a87" stroke-width="0.75" fill="#6b9a87" textLength="44.36" lengthAdjust="spacingAndGlyphs" clip-path="url(#c4)">20,6</text>
<rect x="1167.45" y="634.00" width="22.15" height="38.0" fill="#a8ac7f"/><text x="1196.34" y="660.4" font-size="21.4" font-weight="400" stroke="#899352" stroke-width="0.75" fill="#899352" textLength="25.35" lengthAdjust="spacingAndGlyphs" clip-path="url(#c5)">26</text>
<rect x="1311.94" y="634.00" width="26.92" height="38.0" fill="#8cc4c3"/><text x="1345.87" y="660.4" font-size="21.4" font-weight="400" stroke="#67afad" stroke-width="0.75" fill="#67afad" textLength="44.36" lengthAdjust="spacingAndGlyphs" clip-path="url(#c6)">31,6</text>
<rect x="1456.43" y="634.00" width="12.95" height="38.0" fill="#7f9abf"/><text x="1475.52" y="660.4" font-size="21.4" font-weight="400" stroke="#5f7fab" stroke-width="0.75" fill="#5f7fab" textLength="44.36" lengthAdjust="spacingAndGlyphs" clip-path="url(#c7)">15,2</text>
<text x="430.26" y="707.0" font-size="22.4" fill="#555" text-anchor="end" textLength="244.86" lengthAdjust="spacingAndGlyphs">Tecnología e innovación</text>
<rect x="434" y="699.6" width="10" height="1.6" fill="#ececec"/>
<rect x="445.00" y="681.44" width="25.73" height="38.0" fill="#9f7483"/><text x="477.74" y="707.8" font-size="21.4" font-weight="400" stroke="#7e4c61" stroke-width="0.75" fill="#7e4c61" textLength="44.36" lengthAdjust="spacingAndGlyphs" clip-path="url(#c0)">30,2</text>
<rect x="589.49" y="681.44" width="28.37" height="38.0" fill="#e8b8bb"/><text x="624.87" y="707.8" font-size="21.4" font-weight="400" stroke="#e3a6aa" stroke-width="0.75" fill="#e3a6aa" textLength="44.36" lengthAdjust="spacingAndGlyphs" clip-path="url(#c1)">33,3</text>
<rect x="733.98" y="681.44" width="16.10" height="38.0" fill="#bea588"/><text x="756.23" y="707.8" font-size="21.4" font-weight="400" stroke="#a8896a" stroke-width="0.75" fill="#a8896a" textLength="44.36" lengthAdjust="spacingAndGlyphs" clip-path="url(#c2)">18,9</text>
<rect x="878.47" y="681.44" width="34.08" height="38.0" fill="#d2b86e"/><text x="919.92" y="707.8" font-size="21.4" font-weight="400" stroke="#c4a443" stroke-width="0.75" fill="#c4a443" textLength="25.35" lengthAdjust="spacingAndGlyphs" clip-path="url(#c3)">40</text>
<rect x="1022.96" y="681.44" width="24.37" height="38.0" fill="#8aae9e"/><text x="1054.06" y="707.8" font-size="21.4" font-weight="400" stroke="#6b9a87" stroke-width="0.75" fill="#6b9a87" textLength="44.36" lengthAdjust="spacingAndGlyphs" clip-path="url(#c4)">28,6</text>
<rect x="1167.45" y="681.44" width="27.26" height="38.0" fill="#a8ac7f"/><text x="1201.72" y="707.8" font-size="21.4" font-weight="400" stroke="#899352" stroke-width="0.75" fill="#899352" textLength="25.35" lengthAdjust="spacingAndGlyphs" clip-path="url(#c5)">32</text>
<rect x="1311.94" y="681.44" width="35.87" height="38.0" fill="#8cc4c3"/><text x="1355.18" y="707.8" font-size="21.4" font-weight="400" stroke="#67afad" stroke-width="0.75" fill="#67afad" textLength="44.36" lengthAdjust="spacingAndGlyphs" clip-path="url(#c6)">42,1</text>
<rect x="1456.43" y="681.44" width="41.32" height="38.0" fill="#7f9abf"/><text x="1505.13" y="707.8" font-size="21.4" font-weight="400" stroke="#5f7fab" stroke-width="0.75" fill="#5f7fab" textLength="44.36" lengthAdjust="spacingAndGlyphs" clip-path="url(#c7)">48,5</text>
<text x="429.60" y="754.5" font-size="22.4" fill="#555" text-anchor="end" textLength="86.81" lengthAdjust="spacingAndGlyphs">Chismes</text>
<rect x="434" y="747.1" width="10" height="1.6" fill="#ececec"/>
<rect x="445.00" y="728.88" width="12.87" height="38.0" fill="#9f7483"/><text x="464.01" y="755.2" font-size="21.4" font-weight="400" stroke="#7e4c61" stroke-width="0.75" fill="#7e4c61" textLength="44.36" lengthAdjust="spacingAndGlyphs" clip-path="url(#c0)">15,1</text>
<rect x="589.49" y="728.88" width="7.92" height="38.0" fill="#e8b8bb"/><text x="604.24" y="755.2" font-size="21.4" font-weight="400" stroke="#e3a6aa" stroke-width="0.75" fill="#e3a6aa" textLength="31.68" lengthAdjust="spacingAndGlyphs" clip-path="url(#c1)">9,3</text>
<rect x="733.98" y="728.88" width="6.90" height="38.0" fill="#bea588"/><text x="747.75" y="755.2" font-size="21.4" font-weight="400" stroke="#a8896a" stroke-width="0.75" fill="#a8896a" textLength="31.68" lengthAdjust="spacingAndGlyphs" clip-path="url(#c2)">8,1</text>
<rect x="878.47" y="728.88" width="11.67" height="38.0" fill="#d2b86e"/><text x="896.29" y="755.2" font-size="21.4" font-weight="400" stroke="#c4a443" stroke-width="0.75" fill="#c4a443" textLength="44.36" lengthAdjust="spacingAndGlyphs" clip-path="url(#c3)">13,7</text>
<rect x="1022.96" y="728.88" width="9.46" height="38.0" fill="#8aae9e"/><text x="1038.56" y="755.2" font-size="21.4" font-weight="400" stroke="#6b9a87" stroke-width="0.75" fill="#6b9a87" textLength="42.67" lengthAdjust="spacingAndGlyphs" clip-path="url(#c4)">11,1</text>
<rect x="1167.45" y="728.88" width="6.82" height="38.0" fill="#a8ac7f"/><text x="1181.14" y="755.2" font-size="21.4" font-weight="400" stroke="#899352" stroke-width="0.75" fill="#899352" textLength="12.68" lengthAdjust="spacingAndGlyphs" clip-path="url(#c5)">8</text>
<rect x="1311.94" y="728.88" width="4.52" height="38.0" fill="#8cc4c3"/><text x="1323.42" y="755.2" font-size="21.4" font-weight="400" stroke="#67afad" stroke-width="0.75" fill="#67afad" textLength="31.68" lengthAdjust="spacingAndGlyphs" clip-path="url(#c6)">5,3</text>
<rect x="1456.43" y="728.88" width="7.75" height="38.0" fill="#7f9abf"/><text x="1471.01" y="755.2" font-size="21.4" font-weight="400" stroke="#5f7fab" stroke-width="0.75" fill="#5f7fab" textLength="31.68" lengthAdjust="spacingAndGlyphs" clip-path="url(#c7)">9,1</text>
<text x="429.58" y="801.9" font-size="22.4" fill="#555" text-anchor="end" textLength="202.57" lengthAdjust="spacingAndGlyphs">Viajes y excursiones</text>
<rect x="434" y="794.5" width="10" height="1.6" fill="#ececec"/>
<rect x="445.00" y="776.32" width="38.60" height="38.0" fill="#9f7483"/><text x="490.97" y="802.7" font-size="21.4" font-weight="400" stroke="#7e4c61" stroke-width="0.75" fill="#7e4c61" textLength="44.36" lengthAdjust="spacingAndGlyphs" clip-path="url(#c0)">45,3</text>
<rect x="589.49" y="776.32" width="33.14" height="38.0" fill="#e8b8bb"/><text x="629.64" y="802.7" font-size="21.4" font-weight="400" stroke="#e3a6aa" stroke-width="0.75" fill="#e3a6aa" textLength="44.36" lengthAdjust="spacingAndGlyphs" clip-path="url(#c1)">38,9</text>
<rect x="733.98" y="776.32" width="29.91" height="38.0" fill="#bea588"/><text x="770.89" y="802.7" font-size="21.4" font-weight="400" stroke="#a8896a" stroke-width="0.75" fill="#a8896a" textLength="44.36" lengthAdjust="spacingAndGlyphs" clip-path="url(#c2)">35,1</text>
<rect x="878.47" y="776.32" width="39.45" height="38.0" fill="#d2b86e"/><text x="925.29" y="802.7" font-size="21.4" font-weight="400" stroke="#c4a443" stroke-width="0.75" fill="#c4a443" textLength="44.36" lengthAdjust="spacingAndGlyphs" clip-path="url(#c3)">46,3</text>
<rect x="1022.96" y="776.32" width="32.46" height="38.0" fill="#8aae9e"/><text x="1062.43" y="802.7" font-size="21.4" font-weight="400" stroke="#6b9a87" stroke-width="0.75" fill="#6b9a87" textLength="44.36" lengthAdjust="spacingAndGlyphs" clip-path="url(#c4)">38,1</text>
<rect x="1167.45" y="776.32" width="47.71" height="38.0" fill="#a8ac7f"/><text x="1222.13" y="802.7" font-size="21.4" font-weight="400" stroke="#899352" stroke-width="0.75" fill="#899352" textLength="25.35" lengthAdjust="spacingAndGlyphs" clip-path="url(#c5)">56</text>
<rect x="1311.94" y="776.32" width="44.82" height="38.0" fill="#8cc4c3"/><text x="1363.72" y="802.7" font-size="21.4" font-weight="400" stroke="#67afad" stroke-width="0.75" fill="#67afad" textLength="44.36" lengthAdjust="spacingAndGlyphs" clip-path="url(#c6)">52,6</text>
<rect x="1456.43" y="776.32" width="23.26" height="38.0" fill="#7f9abf"/><text x="1486.43" y="802.7" font-size="21.4" font-weight="400" stroke="#5f7fab" stroke-width="0.75" fill="#5f7fab" textLength="44.36" lengthAdjust="spacingAndGlyphs" clip-path="url(#c7)">27,3</text>
<text x="429.81" y="849.4" font-size="22.4" fill="#555" text-anchor="end" textLength="207.56" lengthAdjust="spacingAndGlyphs">Artesanía y bricolaje</text>
<rect x="434" y="842.0" width="10" height="1.6" fill="#ececec"/>
<rect x="445.00" y="823.76" width="19.26" height="38.0" fill="#9f7483"/><text x="470.99" y="850.1" font-size="21.4" font-weight="400" stroke="#7e4c61" stroke-width="0.75" fill="#7e4c61" textLength="44.36" lengthAdjust="spacingAndGlyphs" clip-path="url(#c0)">22,6</text>
<rect x="589.49" y="823.76" width="23.69" height="38.0" fill="#e8b8bb"/><text x="619.91" y="850.1" font-size="21.4" font-weight="400" stroke="#e3a6aa" stroke-width="0.75" fill="#e3a6aa" textLength="44.36" lengthAdjust="spacingAndGlyphs" clip-path="url(#c1)">27,8</text>
<rect x="733.98" y="823.76" width="27.60" height="38.0" fill="#bea588"/><text x="768.59" y="850.1" font-size="21.4" font-weight="400" stroke="#a8896a" stroke-width="0.75" fill="#a8896a" textLength="44.36" lengthAdjust="spacingAndGlyphs" clip-path="url(#c2)">32,4</text>
<rect x="878.47" y="823.76" width="19.77" height="38.0" fill="#d2b86e"/><text x="904.97" y="850.1" font-size="21.4" font-weight="400" stroke="#c4a443" stroke-width="0.75" fill="#c4a443" textLength="44.36" lengthAdjust="spacingAndGlyphs" clip-path="url(#c3)">23,2</text>
<rect x="1022.96" y="823.76" width="24.37" height="38.0" fill="#8aae9e"/><text x="1054.06" y="850.1" font-size="21.4" font-weight="400" stroke="#6b9a87" stroke-width="0.75" fill="#6b9a87" textLength="44.36" lengthAdjust="spacingAndGlyphs" clip-path="url(#c4)">28,6</text>
<rect x="1167.45" y="823.76" width="18.74" height="38.0" fill="#a8ac7f"/><text x="1192.93" y="850.1" font-size="21.4" font-weight="400" stroke="#899352" stroke-width="0.75" fill="#899352" textLength="25.35" lengthAdjust="spacingAndGlyphs" clip-path="url(#c5)">22</text>
<rect x="1311.94" y="823.76" width="17.98" height="38.0" fill="#8cc4c3"/><text x="1336.65" y="850.1" font-size="21.4" font-weight="400" stroke="#67afad" stroke-width="0.75" fill="#67afad" textLength="44.36" lengthAdjust="spacingAndGlyphs" clip-path="url(#c6)">21,1</text>
<rect x="1456.43" y="823.76" width="18.06" height="38.0" fill="#7f9abf"/><text x="1481.23" y="850.1" font-size="21.4" font-weight="400" stroke="#5f7fab" stroke-width="0.75" fill="#5f7fab" textLength="44.36" lengthAdjust="spacingAndGlyphs" clip-path="url(#c7)">21,2</text>
<text x="429.19" y="896.8" font-size="22.4" fill="#555" text-anchor="end" textLength="297.78" lengthAdjust="spacingAndGlyphs">Vivienda, amueblar y decorar</text>
<rect x="434" y="889.4" width="10" height="1.6" fill="#ececec"/>
<rect x="445.00" y="871.20" width="16.10" height="38.0" fill="#9f7483"/><text x="467.25" y="897.6" font-size="21.4" font-weight="400" stroke="#7e4c61" stroke-width="0.75" fill="#7e4c61" textLength="44.36" lengthAdjust="spacingAndGlyphs" clip-path="url(#c0)">18,9</text>
<rect x="589.49" y="871.20" width="20.53" height="38.0" fill="#e8b8bb"/><text x="616.76" y="897.6" font-size="21.4" font-weight="400" stroke="#e3a6aa" stroke-width="0.75" fill="#e3a6aa" textLength="44.36" lengthAdjust="spacingAndGlyphs" clip-path="url(#c1)">24,1</text>
<rect x="733.98" y="871.20" width="16.10" height="38.0" fill="#bea588"/><text x="756.23" y="897.6" font-size="21.4" font-weight="400" stroke="#a8896a" stroke-width="0.75" fill="#a8896a" textLength="44.36" lengthAdjust="spacingAndGlyphs" clip-path="url(#c2)">18,9</text>
<rect x="878.47" y="871.20" width="18.83" height="38.0" fill="#d2b86e"/><text x="904.03" y="897.6" font-size="21.4" font-weight="400" stroke="#c4a443" stroke-width="0.75" fill="#c4a443" textLength="44.36" lengthAdjust="spacingAndGlyphs" clip-path="url(#c3)">22,1</text>
<rect x="1022.96" y="871.20" width="14.91" height="38.0" fill="#8aae9e"/><text x="1044.01" y="897.6" font-size="21.4" font-weight="400" stroke="#6b9a87" stroke-width="0.75" fill="#6b9a87" textLength="44.36" lengthAdjust="spacingAndGlyphs" clip-path="url(#c4)">17,5</text>
<rect x="1167.45" y="871.20" width="27.26" height="38.0" fill="#a8ac7f"/><text x="1201.72" y="897.6" font-size="21.4" font-weight="400" stroke="#899352" stroke-width="0.75" fill="#899352" textLength="25.35" lengthAdjust="spacingAndGlyphs" clip-path="url(#c5)">32</text>
<rect x="1311.94" y="871.20" width="31.35" height="38.0" fill="#8cc4c3"/><text x="1350.30" y="897.6" font-size="21.4" font-weight="400" stroke="#67afad" stroke-width="0.75" fill="#67afad" textLength="44.36" lengthAdjust="spacingAndGlyphs" clip-path="url(#c6)">36,8</text>
<rect x="1456.43" y="871.20" width="7.75" height="38.0" fill="#7f9abf"/><text x="1471.01" y="897.6" font-size="21.4" font-weight="400" stroke="#5f7fab" stroke-width="0.75" fill="#5f7fab" textLength="31.68" lengthAdjust="spacingAndGlyphs" clip-path="url(#c7)">9,1</text>
<text x="430.27" y="944.2" font-size="22.4" fill="#555" text-anchor="end" textLength="196.14" lengthAdjust="spacingAndGlyphs">Jardinería y balcón</text>
<rect x="434" y="936.8" width="10" height="1.6" fill="#ececec"/>
<rect x="445.00" y="918.64" width="11.25" height="38.0" fill="#9f7483"/><text x="462.39" y="945.0" font-size="21.4" font-weight="400" stroke="#7e4c61" stroke-width="0.75" fill="#7e4c61" textLength="44.36" lengthAdjust="spacingAndGlyphs" clip-path="url(#c0)">13,2</text>
<rect x="589.49" y="918.64" width="12.61" height="38.0" fill="#e8b8bb"/><text x="608.24" y="945.0" font-size="21.4" font-weight="400" stroke="#e3a6aa" stroke-width="0.75" fill="#e3a6aa" textLength="44.36" lengthAdjust="spacingAndGlyphs" clip-path="url(#c1)">14,8</text>
<rect x="733.98" y="918.64" width="9.20" height="38.0" fill="#bea588"/><text x="749.32" y="945.0" font-size="21.4" font-weight="400" stroke="#a8896a" stroke-width="0.75" fill="#a8896a" textLength="44.36" lengthAdjust="spacingAndGlyphs" clip-path="url(#c2)">10,8</text>
<rect x="878.47" y="918.64" width="11.67" height="38.0" fill="#d2b86e"/><text x="896.29" y="945.0" font-size="21.4" font-weight="400" stroke="#c4a443" stroke-width="0.75" fill="#c4a443" textLength="44.36" lengthAdjust="spacingAndGlyphs" clip-path="url(#c3)">13,7</text>
<rect x="1022.96" y="918.64" width="16.19" height="38.0" fill="#8aae9e"/><text x="1045.29" y="945.0" font-size="21.4" font-weight="400" stroke="#6b9a87" stroke-width="0.75" fill="#6b9a87" textLength="25.35" lengthAdjust="spacingAndGlyphs" clip-path="url(#c4)">19</text>
<rect x="1167.45" y="918.64" width="15.34" height="38.0" fill="#a8ac7f"/><text x="1188.93" y="945.0" font-size="21.4" font-weight="400" stroke="#899352" stroke-width="0.75" fill="#899352" textLength="25.35" lengthAdjust="spacingAndGlyphs" clip-path="url(#c5)">18</text>
<rect x="1311.94" y="918.64" width="8.95" height="38.0" fill="#8cc4c3"/><text x="1327.03" y="945.0" font-size="21.4" font-weight="400" stroke="#67afad" stroke-width="0.75" fill="#67afad" textLength="44.36" lengthAdjust="spacingAndGlyphs" clip-path="url(#c6)">10,5</text>
<rect x="1456.43" y="918.64" width="7.75" height="38.0" fill="#7f9abf"/><text x="1471.01" y="945.0" font-size="21.4" font-weight="400" stroke="#5f7fab" stroke-width="0.75" fill="#5f7fab" textLength="31.68" lengthAdjust="spacingAndGlyphs" clip-path="url(#c7)">9,1</text>
<text x="429.67" y="991.7" font-size="22.4" fill="#555" text-anchor="end" textLength="84.62" lengthAdjust="spacingAndGlyphs">Noticias</text>
<rect x="434" y="984.3" width="10" height="1.6" fill="#ececec"/>
<rect x="445.00" y="966.08" width="51.46" height="38.0" fill="#9f7483"/><text x="503.20" y="992.4" font-size="21.4" font-weight="400" stroke="#7e4c61" stroke-width="0.75" fill="#7e4c61" textLength="44.36" lengthAdjust="spacingAndGlyphs" clip-path="url(#c0)">60,4</text>
<rect x="589.49" y="966.08" width="45.75" height="38.0" fill="#e8b8bb"/><text x="642.21" y="992.4" font-size="21.4" font-weight="400" stroke="#e3a6aa" stroke-width="0.75" fill="#e3a6aa" textLength="44.36" lengthAdjust="spacingAndGlyphs" clip-path="url(#c1)">53,7</text>
<rect x="733.98" y="966.08" width="13.80" height="38.0" fill="#bea588"/><text x="753.93" y="992.4" font-size="21.4" font-weight="400" stroke="#a8896a" stroke-width="0.75" fill="#a8896a" textLength="44.36" lengthAdjust="spacingAndGlyphs" clip-path="url(#c2)">16,2</text>
<rect x="878.47" y="966.08" width="37.66" height="38.0" fill="#d2b86e"/><text x="923.50" y="992.4" font-size="21.4" font-weight="400" stroke="#c4a443" stroke-width="0.75" fill="#c4a443" textLength="44.36" lengthAdjust="spacingAndGlyphs" clip-path="url(#c3)">44,2</text>
<rect x="1022.96" y="966.08" width="35.19" height="38.0" fill="#8aae9e"/><text x="1065.52" y="992.4" font-size="21.4" font-weight="400" stroke="#6b9a87" stroke-width="0.75" fill="#6b9a87" textLength="44.36" lengthAdjust="spacingAndGlyphs" clip-path="url(#c4)">41,3</text>
<rect x="1167.45" y="966.08" width="52.82" height="38.0" fill="#a8ac7f"/><text x="1227.01" y="992.4" font-size="21.4" font-weight="400" stroke="#899352" stroke-width="0.75" fill="#899352" textLength="25.35" lengthAdjust="spacingAndGlyphs" clip-path="url(#c5)">62</text>
<rect x="1311.94" y="966.08" width="53.85" height="38.0" fill="#8cc4c3"/><text x="1372.52" y="992.4" font-size="21.4" font-weight="400" stroke="#67afad" stroke-width="0.75" fill="#67afad" textLength="44.36" lengthAdjust="spacingAndGlyphs" clip-path="url(#c6)">63,2</text>
<rect x="1456.43" y="966.08" width="51.63" height="38.0" fill="#7f9abf"/><text x="1514.80" y="992.4" font-size="21.4" font-weight="400" stroke="#5f7fab" stroke-width="0.75" fill="#5f7fab" textLength="44.36" lengthAdjust="spacingAndGlyphs" clip-path="url(#c7)">60,6</text>
</svg>
</body></html>
